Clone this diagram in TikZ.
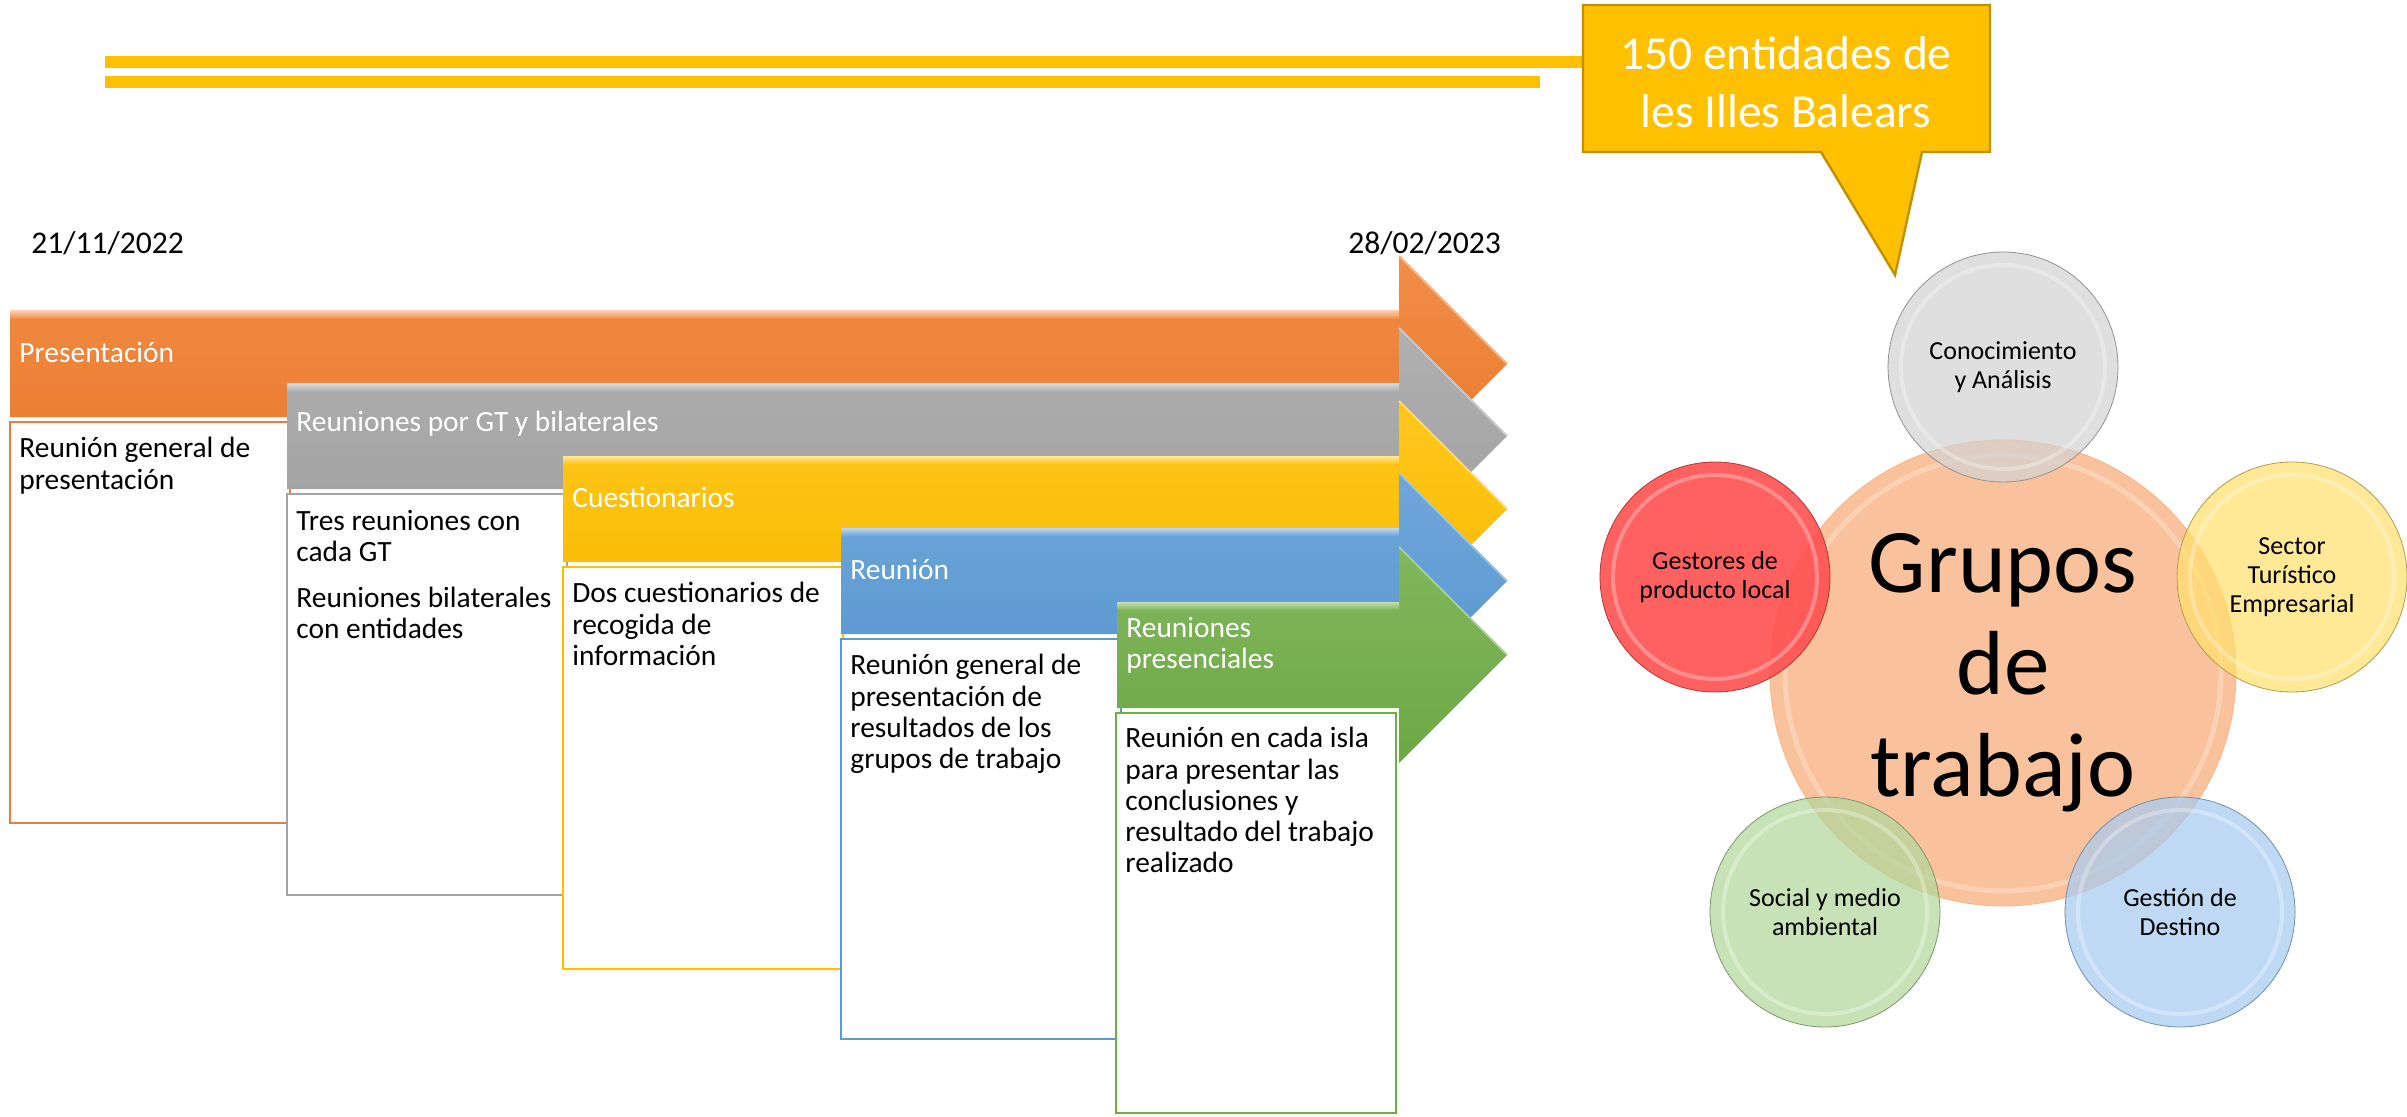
\documentclass[tikz,border=0pt]{standalone}
\usepackage{fontspec}
\setmainfont{Carlito}
\usetikzlibrary{positioning}

\definecolor{gtorange}{RGB}{240,126,46}
\definecolor{gtgray}{RGB}{165,165,165}
\definecolor{gtyellow}{RGB}{255,192,0}
\definecolor{gtblue}{RGB}{91,155,213}
\definecolor{gtgreen}{RGB}{112,173,71}
\definecolor{gtgold}{RGB}{191,144,0}
\definecolor{gtpeach}{RGB}{250,189,148}
\definecolor{gtsilver}{RGB}{210,210,210}
\definecolor{gtred}{RGB}{255,82,82}
\definecolor{gtsun}{RGB}{255,224,110}
\definecolor{gtleaf}{RGB}{178,215,155}
\definecolor{gtsky}{RGB}{166,203,240}

\newcommand{\gtbody}{\fontsize{14.7}{15.6}\selectfont}
\newcommand{\gtdate}{\fontsize{15.8}{19}\selectfont}
\newcommand{\gtcall}{\fontsize{23.7}{29}\selectfont}
\newcommand{\gtsmall}{\fontsize{13}{14.6}\selectfont}
\newcommand{\gtbig}{\fontsize{45.5}{51}\selectfont}

% phase arrow: colour, left x, top y (all arrows end at the same date)
\newcommand{\phasearrow}[3]{%
  \shade[top color=#1!88!white, bottom color=#1!97!black]
    (#2,#3) -- (1399,#3) -- (1399,#3-55) -- (1507,#3+53) -- (1399,#3+161)
    -- (1399,#3+106) -- (#2,#3+106) -- cycle;
  \shade[top color=#1!40!white, bottom color=#1!90!white] (#2,#3) rectangle (1399,#3+8);
  \draw[#1!60!white, line width=1pt] (1399,#3-55) -- (1507,#3+53);
}

\tikzset{
  phaselabel/.style={anchor=west, text=white, align=left, inner sep=0pt, font=\gtbody},
  boxline/.style={draw=#1, fill=white, line width=1pt},
  boxtext/.style={anchor=north west, align=left, inner sep=0pt, font=\gtbody},
  datelabel/.style={anchor=west, inner sep=0pt, font=\gtdate},
  bubble/.style={circle, draw=#1!70!black, fill=#1, fill opacity=0.72, text opacity=1,
    minimum size=115pt, inner sep=0pt, align=center, font=\gtsmall,
    path picture={\draw[white, opacity=0.3, line width=2pt]
      (path picture bounding box.center) circle (51pt);}},
}

\begin{document}
\begin{tikzpicture}[x=0.5pt,y=-0.5pt]
  \useasboundingbox (0,0) rectangle (2407,1117);

  % header bars and callout
  \fill[gtyellow] (105,56) rectangle (1590,68);
  \fill[gtyellow] (105,76) rectangle (1540,88);
  \filldraw[fill=gtyellow, draw=gtgold, line width=1.2pt]
    (1583,5) -- (1990,5) -- (1990,152) -- (1922,152) -- (1895,275)
    -- (1821,152) -- (1583,152) -- cycle;
  \node[text=white, align=center, font=\gtcall] (callTxt) at (1786,82)
    {150 entidades de\\les Illes Balears};

  % dates
  \node[datelabel] (dateA) at (31,243) {21/11/2022};
  \node[datelabel] (dateB) at (1348,243) {28/02/2023};

  % phases
  \phasearrow{gtorange}{10}{311}
  \node[phaselabel] (labA) at (19,352) {Presentación};
  \draw[boxline=gtorange] (10,422) rectangle ++(280,401);
  \node[boxtext] (txtA) at (19,437) {Reunión general de\\presentación};

  \phasearrow{gtgray}{287}{383}
  \node[phaselabel] (labB) at (296,424) {Reuniones por GT y bilaterales};
  \draw[boxline=gtgray] (287,494) rectangle ++(280,401);
  \node[boxtext] (txtB) at (296,510) {Tres reuniones con\\cada GT\\[7pt]Reuniones bilaterales\\con entidades};

  \phasearrow{gtyellow}{563}{456}
  \node[phaselabel] (labC) at (572,497) {Cuestionarios};
  \draw[boxline=gtyellow] (563,567) rectangle ++(280,402);
  \node[boxtext] (txtC) at (572,582) {Dos cuestionarios de\\recogida de\\información};

  \phasearrow{gtblue}{841}{528}
  \node[phaselabel] (labD) at (850,569) {Reunión};
  \draw[boxline=gtblue] (841,639) rectangle ++(280,400);
  \node[boxtext] (txtD) at (850,654) {Reunión general de\\presentación de\\resultados de los\\grupos de trabajo};

  \phasearrow{gtgreen}{1117}{602}
  \node[phaselabel] (labE) at (1126,645) {Reuniones\\presenciales};
  \draw[boxline=gtgreen] (1116,713) rectangle ++(280,400);
  \node[boxtext] (txtE) at (1125,727) {Reunión en cada isla\\para presentar las\\conclusiones y\\resultado del trabajo\\realizado};

  % working groups
  \node[circle, fill=gtpeach, draw=gtpeach!85!orange, fill opacity=0.92, text opacity=1,
    minimum size=233pt, inner sep=0pt, align=center, font=\gtbig,
    path picture={\draw[white, opacity=0.25, line width=2.5pt]
      (path picture bounding box.center) circle (109pt);}]
    (grupos) at (2003,673) {Grupos\\de\\trabajo};
  \node[bubble=gtsilver] (conoc) at (2003,367) {Conocimiento\\y Análisis};
  \node[bubble=gtred, fill opacity=0.92] (gestores) at (1715,577) {Gestores de\\producto local};
  \node[bubble=gtsun] (sector) at (2292,577) {Sector\\Turístico\\Empresarial};
  \node[bubble=gtleaf] (social) at (1825,912) {Social y medio\\ambiental};
  \node[bubble=gtsky] (destino) at (2180,912) {Gestión de\\Destino};
\end{tikzpicture}
\end{document}
